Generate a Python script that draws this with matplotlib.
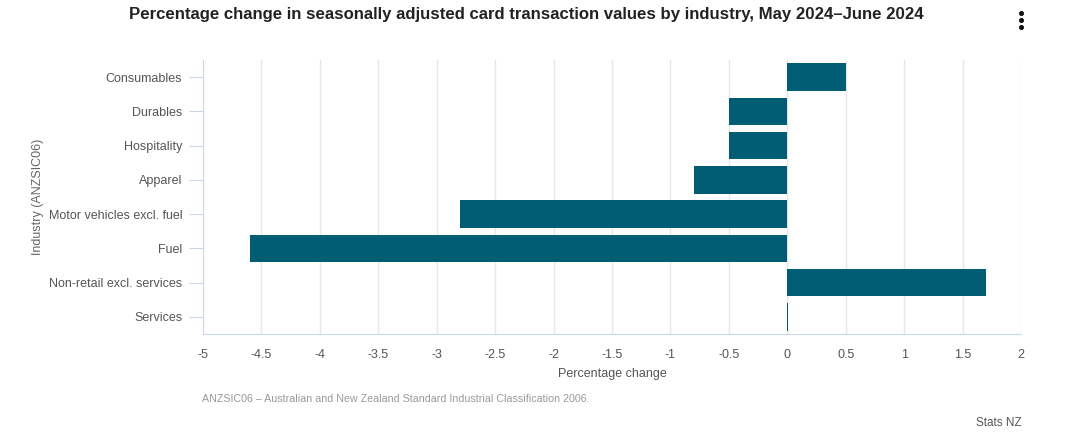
import matplotlib
matplotlib.use("Agg")
import matplotlib.pyplot as plt
from matplotlib.lines import Line2D

categories = ["Consumables", "Durables", "Hospitality", "Apparel",
              "Motor vehicles excl. fuel", "Fuel", "Non-retail excl. services", "Services"]
values = [0.5, -0.5, -0.5, -0.8, -2.8, -4.6, 1.7, 0.01]
xticks = [-5, -4.5, -4, -3.5, -3, -2.5, -2, -1.5, -1, -0.5, 0, 0.5, 1, 1.5, 2]

plt.rcParams['font.family'] = ['Liberation Sans', 'DejaVu Sans']

fig = plt.figure(figsize=(10.78, 4.43), dpi=100)
ax = fig.add_axes([203/1078, 1-334/443, (1021-203)/1078, (334-60)/443])

ypos = list(range(len(categories)))
ax.barh(ypos, values, height=0.8, color="#005d74", zorder=3)
ax.set_ylim(len(categories)-0.5, -0.5)
ax.set_yticks(ypos)
ax.set_yticklabels(categories, fontsize=9, color="#555555")
ax.set_xlim(-5, 2)
ax.set_xticks(xticks)
ax.set_xticklabels([f"{t:g}" for t in xticks], fontsize=9, color="#555555")
ax.tick_params(axis='x', length=0, pad=11)
ax.tick_params(axis='y', length=10, color="#ccd6eb", pad=5)
ax.grid(axis='x', color="#e6e6e6", linewidth=1, zorder=0)
for s in ["top", "right"]:
    ax.spines[s].set_visible(False)
for s in ["left", "bottom"]:
    ax.spines[s].set_color("#ccd6eb")
ax.set_xlabel("Percentage change", fontsize=9, color="#555555", labelpad=5)

fig.text(38/1078, 1-197/443, "Industry (ANZSIC06)", rotation=90, ha="center", va="center",
         fontsize=9, color="#666666")
fig.text(526/1078, 1-15/443, "Percentage change in seasonally adjusted card transaction values by industry, May 2024\u2013June 2024",
         ha="center", va="center", fontsize=12.1, fontweight="bold", color="#222222")
fig.text(202/1078, 1-399/443, "ANZSIC06 \u2013 Australian and New Zealand Standard Industrial Classification 2006.",
         ha="left", va="center", fontsize=7.7, color="#999999")
fig.text(1022/1078, 1-423/443, "Stats NZ", ha="right", va="center", fontsize=8.5, color="#555555")
fig.add_artist(Line2D([1021/1078]*3, [1-13/443, 1-20/443, 1-27/443], transform=fig.transFigure,
                      linestyle="none", marker="o", markersize=2.6, color="#111111"))

fig.savefig("out.png", dpi=100)
